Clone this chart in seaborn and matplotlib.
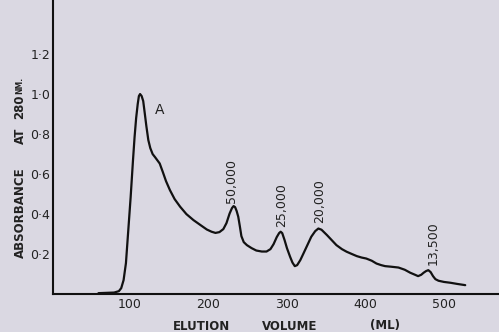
"""Gel filtration elution profile (absorbance at 280 nm vs elution volume)."""

import pandas as pd
import matplotlib.pyplot as plt
import seaborn as sns

sns.set_style("white")
plt.rcParams.update({
    'font.family': 'DejaVu Sans',
    'font.size': 9,
})

# Elution profile
volume = [60, 80, 86, 89, 92, 95, 98, 101, 104, 106, 108, 110, 111.5, 113,
          115, 117, 119, 121, 123.5, 126, 129, 132, 138, 142, 146, 151, 157,
          164, 172, 181, 190, 198, 204, 209, 214, 219, 223, 227, 230, 232,
          234, 236, 238, 240, 242, 245, 249, 255, 261, 268, 274, 279, 283,
          287, 290, 292, 294, 297, 300, 304, 307, 310, 313, 317, 321, 326,
          331, 336, 340, 344, 351, 357, 363, 370, 376, 383, 389, 395, 401,
          408, 414, 420, 425, 433, 442, 450, 457, 463, 467, 471, 474, 477,
          480, 483, 486, 489, 493, 500, 508, 517, 527]
absorbance = [0.005, 0.008, 0.015, 0.03, 0.07, 0.155, 0.32, 0.485, 0.67,
              0.785, 0.88, 0.95, 0.99, 1.0, 0.99, 0.965, 0.903, 0.84, 0.77,
              0.73, 0.70, 0.685, 0.653, 0.61, 0.565, 0.52, 0.475, 0.437,
              0.40, 0.37, 0.345, 0.323, 0.312, 0.306, 0.31, 0.325, 0.355,
              0.403, 0.43, 0.44, 0.435, 0.415, 0.387, 0.34, 0.29, 0.26, 0.245,
              0.23, 0.218, 0.213, 0.213, 0.225, 0.25, 0.285, 0.305, 0.312,
              0.305, 0.27, 0.23, 0.187, 0.158, 0.14, 0.145, 0.17, 0.203,
              0.245, 0.287, 0.315, 0.328, 0.322, 0.295, 0.27, 0.245, 0.225,
              0.212, 0.2, 0.19, 0.183, 0.178, 0.167, 0.153, 0.145, 0.14,
              0.137, 0.133, 0.122, 0.107, 0.097, 0.09, 0.097, 0.107, 0.115,
              0.12, 0.11, 0.09, 0.075, 0.067, 0.061, 0.057, 0.051, 0.045]

# Peak annotations (molecular weight markers)
peak_labels = ['50,000', '25,000', '20,000', '13,500']
peak_x = [230, 293, 342, 486]
peak_y = [0.455, 0.335, 0.355, 0.145]

x_ticks = [100, 200, 300, 400, 500]
y_ticks = [0.2, 0.4, 0.6, 0.8, 1.0, 1.2]
y_tick_labels = ['0·2', '0·4', '0·6', '0·8', '1·0', '1·2']

df = pd.DataFrame({'volume': volume, 'absorbance': absorbance})

bg = '#dad8e2'
fig = plt.figure(figsize=(4.99, 3.32), dpi=100, facecolor=bg)
ax = fig.add_axes([0.106, 0.114, 0.894, 0.886])
ax.set_facecolor(bg)

sns.lineplot(data=df, x='volume', y='absorbance', ax=ax, color='#111111',
             linewidth=1.6, estimator=None)

ax.set_xlim(2, 570)
ax.set_ylim(0, 1.47)
ax.set_xticks(x_ticks)
ax.set_xticklabels([str(t) for t in x_ticks])
ax.set_yticks(y_ticks)
ax.set_yticklabels(y_tick_labels)
ax.tick_params(axis='both', direction='in', length=8, width=1.3,
               color='#111111', labelcolor='#222222', labelsize=9)
ax.tick_params(axis='y', pad=2)
ax.tick_params(axis='x', pad=3)
for side in ['top', 'right']:
    ax.spines[side].set_visible(False)
for side in ['left', 'bottom']:
    ax.spines[side].set_linewidth(1.5)
    ax.spines[side].set_color('#111111')
ax.set_xlabel('')
ax.set_ylabel('')

# Peak labels
ax.text(132, 0.92, 'A', fontsize=10, color='#222222', ha='left', va='center')
for lab, px, py in zip(peak_labels, peak_x, peak_y):
    ax.text(px, py, lab, rotation=90, ha='center', va='bottom',
            fontsize=9, color='#222222')

# Axis titles, set in separate words like the original
for word, xpx in [('ELUTION', 202), ('VOLUME', 290), ('(ML)', 385)]:
    fig.text(xpx / 499, 1 - 326 / 332, word, ha='center', va='center',
             fontsize=8.5, fontweight='bold', color='#222222')
for word, ypx, fs in [('ABSORBANCE', 213, 8.5), ('AT', 136, 8.5),
                      ('280', 107, 8.5), ('NM.', 85, 5.5)]:
    fig.text(20 / 499, 1 - ypx / 332, word, rotation=90, ha='center',
             va='center', fontsize=fs, fontweight='bold', color='#222222')

fig.savefig('out.png', dpi=100, facecolor=bg)
plt.close(fig)
